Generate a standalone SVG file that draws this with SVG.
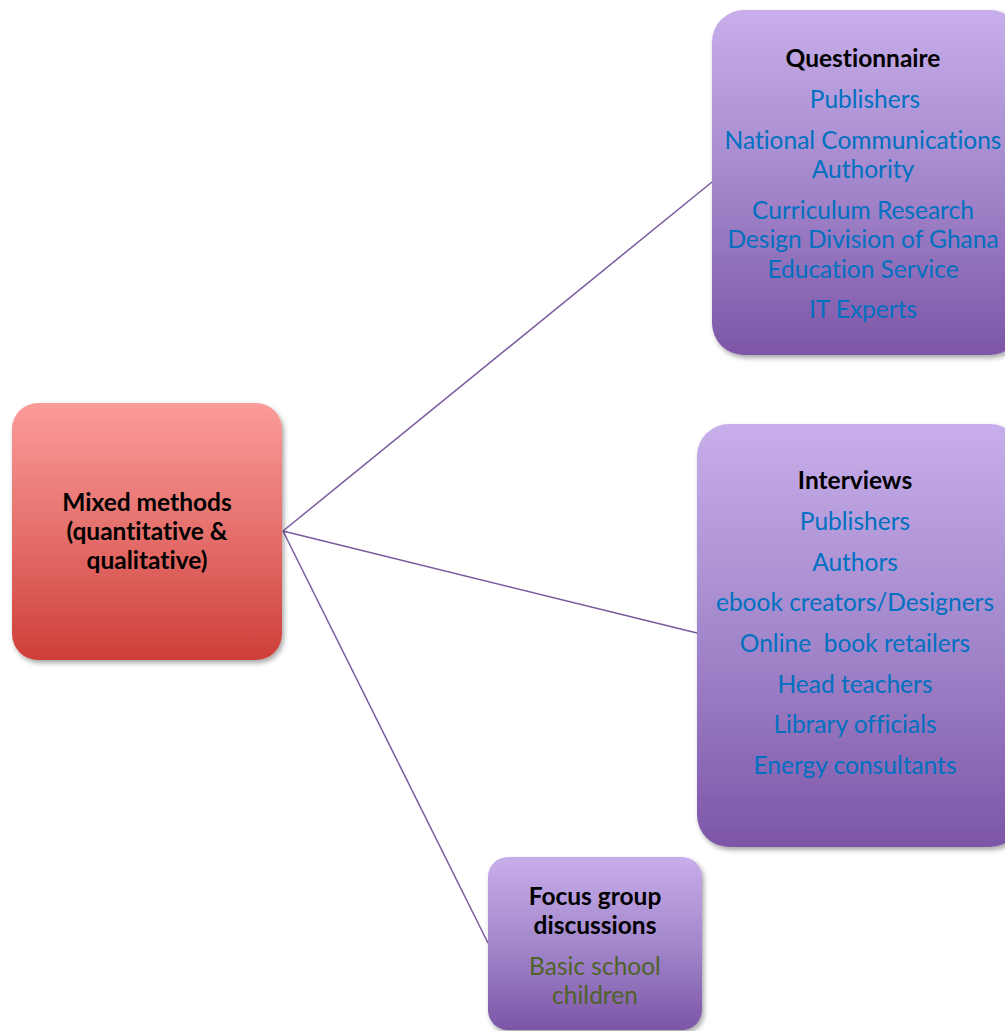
<svg xmlns="http://www.w3.org/2000/svg" width="1005" height="1031" viewBox="0 0 1005 1031">
  <defs>
    <linearGradient id="redFill" x1="0" y1="0" x2="0" y2="1">
      <stop offset="0" stop-color="#FB9C99"/>
      <stop offset="0.5" stop-color="#E5706C"/>
      <stop offset="1" stop-color="#CF3F3A"/>
    </linearGradient>
    <linearGradient id="purpleFill" x1="0" y1="0" x2="0" y2="1">
      <stop offset="0" stop-color="#C8AEEA"/>
      <stop offset="0.5" stop-color="#A387CC"/>
      <stop offset="1" stop-color="#7D56A7"/>
    </linearGradient>
    <filter id="shadow" x="-10%" y="-10%" width="125%" height="125%">
      <feDropShadow dx="2" dy="3" stdDeviation="2.5" flood-color="#000" flood-opacity="0.35"/>
    </filter>
  </defs>
  <style>
    text { font-family: Lato, "Open Sans", sans-serif; text-anchor: middle; font-variant-ligatures: none; }
    .title { font-weight: bold; font-size: 24.5px; fill: #000; }
    .item { font-size: 24.5px; fill: #0070C0; }
    .green { fill: #4F6228; }
    .link { stroke: #7A5A9E; stroke-width: 1.5; fill: none; }
  </style>
  <rect width="1005" height="1031" fill="#fff"/>

  <g id="connectors">
    <line class="link" x1="283" y1="531" x2="712" y2="182"/>
    <line class="link" x1="283" y1="531" x2="697" y2="633"/>
    <line class="link" x1="283" y1="531" x2="488" y2="943"/>
  </g>

  <g id="mixed-methods">
    <rect x="12" y="403" width="270" height="257" rx="26" fill="url(#redFill)" filter="url(#shadow)"/>
    <text class="title" x="147" y="511">Mixed methods</text>
    <text class="title" x="147" y="540">(quantitative &amp;</text>
    <text class="title" x="147" y="569">qualitative)</text>
  </g>

  <g id="questionnaire">
    <rect x="712" y="10" width="310" height="345" rx="32" fill="url(#purpleFill)" filter="url(#shadow)"/>
    <text class="title" x="863" y="67">Questionnaire</text>
    <text class="item" x="865" y="108">Publishers</text>
    <text class="item" x="863" y="149">National Communications</text>
    <text class="item" x="863" y="178">Authority</text>
    <text class="item" x="863" y="219">Curriculum Research</text>
    <text class="item" x="863" y="248">Design Division of Ghana</text>
    <text class="item" x="863" y="278">Education Service</text>
    <text class="item" x="863" y="318">IT Experts</text>
  </g>

  <g id="interviews">
    <rect x="697" y="424" width="325" height="423" rx="32" fill="url(#purpleFill)" filter="url(#shadow)"/>
    <text class="title" x="855" y="489">Interviews</text>
    <text class="item" x="855" y="530">Publishers</text>
    <text class="item" x="855" y="571">Authors</text>
    <text class="item" x="855" y="611">ebook creators/Designers</text>
    <text class="item" x="855" y="652" xml:space="preserve" style="white-space: pre">Online  book retailers</text>
    <text class="item" x="855" y="693">Head teachers</text>
    <text class="item" x="855" y="733">Library officials</text>
    <text class="item" x="855" y="774">Energy consultants</text>
  </g>

  <g id="focus-groups">
    <rect x="488" y="857" width="214" height="173" rx="20" fill="url(#purpleFill)" filter="url(#shadow)"/>
    <text class="title" x="595" y="905">Focus group</text>
    <text class="title" x="595" y="934">discussions</text>
    <text class="item green" x="595" y="975">Basic school</text>
    <text class="item green" x="595" y="1004">children</text>
  </g>
</svg>
